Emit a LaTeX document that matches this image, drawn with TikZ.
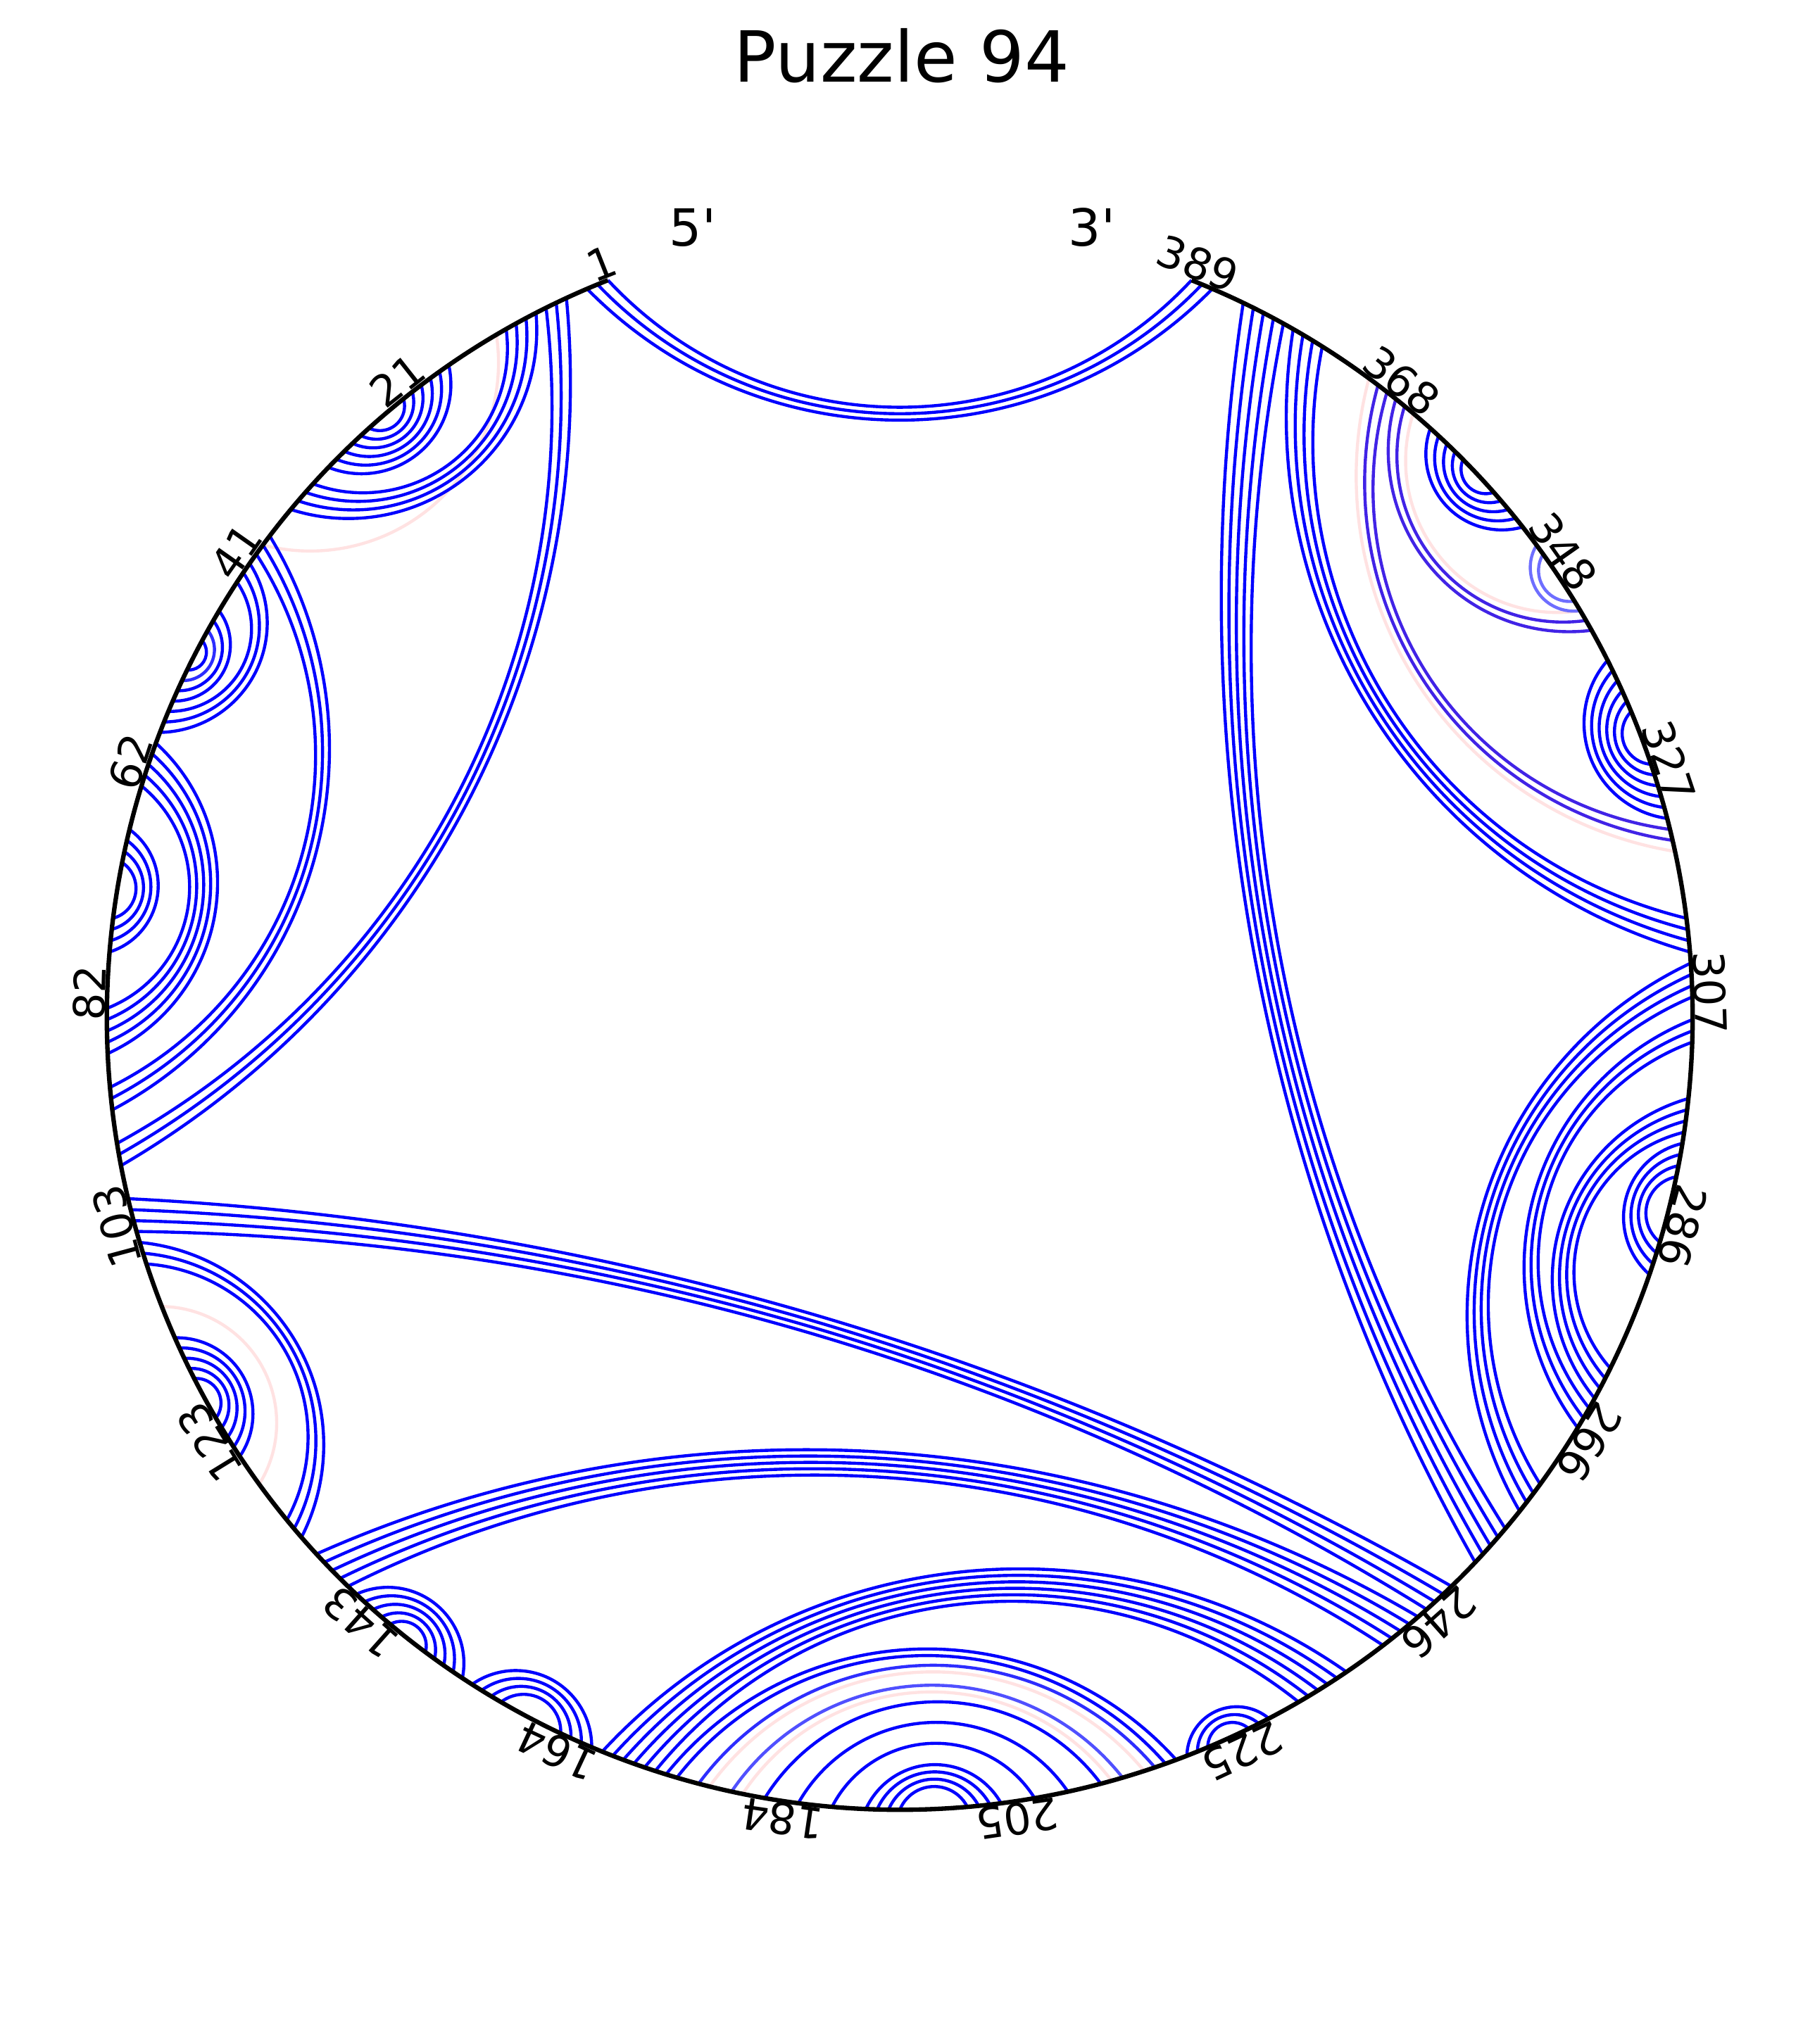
\documentclass[tikz,border=0pt]{standalone}
\usepackage{fontspec}
\newfontfamily\dv{DejaVu Sans}
\definecolor{bpblue}{RGB}{0,0,255}
\definecolor{bplight}{RGB}{80,80,255}
\definecolor{bpmid}{RGB}{45,45,255}
\definecolor{bpvio}{RGB}{65,35,230}
\definecolor{bppale}{RGB}{110,110,255}
\definecolor{bppink}{RGB}{255,226,226}
\tikzset{
  bpline/.style={draw=bpblue,line width=1.25pt},
  backbone/.style={draw=black,line width=1.8pt},
  lbl/.style={font=\dv\fontsize{17.5}{20}\selectfont,inner sep=0pt},
}
\def\RR{11.26}
% base pair drawn as a circular arc through both ends and an apex
\newcommand\bpair[3][]{%
  \pgfmathsetmacro\bpA{111.6+(#2-1)*0.816495}%
  \pgfmathsetmacro\bpB{111.6+(#3-1)*0.816495}%
  \pgfmathsetmacro\bpA{(\bpB-\bpA>180) ? \bpA+360 : \bpA}%
  \pgfmathsetmacro\bpM{(\bpA+\bpB)/2}%
  \pgfmathsetmacro\bpHa{abs(\bpB-\bpA)/2}%
  \pgfmathsetmacro\bpF{2*\bpHa*pi/180}%
  \pgfmathsetmacro\bpCc{sin(\bpHa)}%
  \pgfmathsetmacro\bpMm{cos(\bpHa)}%
  \pgfmathsetmacro\bpAp{(\bpMm+exp(-0.67*\bpF)+0.01*\bpF*\bpF)/2}%
  \pgfmathsetmacro\bpS{\bpMm-\bpAp}%
  \pgfmathsetmacro\bpRho{(\bpCc*\bpCc+\bpS*\bpS)/(2*\bpS)}%
  \pgfmathsetmacro\bpBeta{asin(\bpCc/\bpRho)}%
  \pgfmathsetmacro\bpDc{(\bpAp+\bpRho)*\RR}%
  \pgfmathsetmacro\bpSt{\bpM+180-\bpBeta}%
  \pgfmathsetmacro\bpEn{\bpM+180+\bpBeta}%
  \pgfmathsetmacro\bpRr{\bpRho*\RR}%
  \draw[bpline,#1,shift={(\bpM:\bpDc)}] (\bpSt:\bpRr) arc[start angle=\bpSt,end angle=\bpEn,radius=\bpRr];%
}
\begin{document}
\begin{tikzpicture}
\useasboundingbox (-12.78,-14.59) rectangle (12.82,14.45);
% faint pink arcs
\foreach \i/\j in {12/40,111/129,178/217,181/214,320/371,343/366}{\bpair[draw=bppink]{\i}{\j}}
% blue arcs
\foreach \i/\j in {1/389,2/388,3/387,
  5/98,6/97,7/96,
  8/36,9/35,10/34,11/33,
  17/31,18/30,19/29,20/28,21/27,22/26,
  39/93,40/92,41/91,
  42/59,43/58,44/57,47/56,48/55,50/53,
  60/88,61/87,62/86,63/85,64/84,
  68/79,69/78,70/77,71/76,
  101/249,102/248,103/247,104/246,
  105/135,106/134,107/133,
  114/126,115/125,116/124,117/123,118/122,
  137/245,138/244,139/243,140/242,141/241,
  142/154,143/153,144/152,145/151,146/150,
  155/167,156/166,157/165,158/164,
  168/237,169/236,170/235,171/234,172/233,173/232,
  174/220,175/219,183/213,186/210,189/207,
  192/204,193/203,194/202,195/201,
  221/229,222/228,223/227,
  252/384,253/383,254/382,255/381,256/380,
  311/379,312/378,313/377,314/376,
  258/310,259/309,260/308,261/307,
  267/305,268/304,269/303,
  270/298,271/297,272/296,273/295,
  282/294,283/293,284/292,285/291,
  323/338,324/337,325/336,326/335,327/334,328/333,
  352/364,353/363,354/362,355/361,356/360}{\bpair{\i}{\j}}
\bpair[draw=bpmid]{49}{54}
\bpair[draw=bplight]{180}{215}
\bpair[draw=bpmid]{177}{218}
\foreach \i/\j in {343/350,344/349}{\bpair[draw=bppale]{\i}{\j}}
\foreach \i/\j in {321/370,322/369,341/368,342/367}{\bpair[draw=bpvio]{\i}{\j}}
% backbone
\draw[backbone] (111.6:\RR) arc[start angle=111.6,end angle=428.4,radius=\RR];
% position labels
\foreach \k in {0,...,19}{%
  \pgfmathsetmacro\lpos{1+\k*388/19}%
  \pgfmathtruncatemacro\ltxt{\lpos+0.001}%
  \pgfmathsetmacro\lang{111.6+(\lpos-1)*0.816495}%
  \pgfmathsetmacro\lrot{\lang-90}%
  \pgfmathsetmacro\lrad{\RR+0.03}%
  \node[lbl,anchor=base,rotate=\lrot] (lab\k) at (\lang:\lrad) {\ltxt};
}
\node[font=\dv\fontsize{20.7}{24}\selectfont,anchor=base,inner sep=0pt] (five) at (-2.94,10.95) {5'};
\node[font=\dv\fontsize{20.7}{24}\selectfont,anchor=base,inner sep=0pt] (three) at (2.73,10.95) {3'};
\node[font=\dv\fontsize{28.5}{32}\selectfont,anchor=base,inner sep=0pt] (title) at (0.03,13.28) {Puzzle 94};
\end{tikzpicture}
\end{document}
